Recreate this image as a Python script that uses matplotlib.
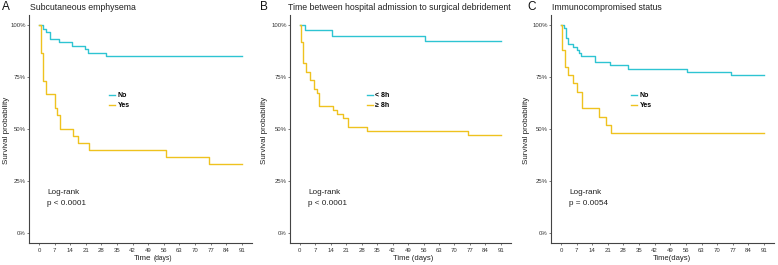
import matplotlib
matplotlib.use("Agg")
import matplotlib.pyplot as plt

plt.rcParams["font.family"] = ["Liberation Sans", "DejaVu Sans"]

CYAN = "#2ec4d2"
GOLD = "#efc21f"

# Panel A: Subcutaneous emphysema
a_no_t = [0, 2, 3, 5, 9, 15, 20.5, 22, 30, 91]
a_no_s = [1.0, 0.983, 0.967, 0.933, 0.917, 0.900, 0.883, 0.867, 0.850, 0.850]
a_yes_t = [0, 1, 2, 3, 7, 8.2, 9.3, 15.2, 17.3, 22.4, 56.8, 76.2, 91]
a_yes_s = [1.0, 0.867, 0.733, 0.667, 0.600, 0.567, 0.500, 0.467, 0.433, 0.400, 0.367, 0.333, 0.333]

# Panel B: Time between hospital admission to surgical debridement
b_lt_t = [0, 2.3, 14.7, 56.7, 91]
b_lt_s = [1.0, 0.974, 0.949, 0.923, 0.923]
b_ge_t = [0, 0.7, 1.5, 2.6, 4.5, 6.5, 7.6, 8.6, 14.8, 17, 19.7, 21.9, 30.2, 76.3, 91]
b_ge_s = [1.0, 0.918, 0.816, 0.775, 0.735, 0.694, 0.673, 0.612, 0.592, 0.571, 0.551,
          0.510, 0.490, 0.469, 0.469]

# Panel C: Immunocompromised status
c_no_t = [0, 1.2, 2.2, 3, 5.2, 7.2, 8.2, 9, 15.3, 22, 30, 56.5, 76, 91]
c_no_s = [1.0, 0.984, 0.936, 0.908, 0.895, 0.882, 0.866, 0.850, 0.820, 0.806, 0.790,
          0.774, 0.758, 0.758]
c_yes_t = [0, 0.5, 2, 3, 5.2, 7.2, 9.3, 17.2, 20.2, 22.5, 91]
c_yes_s = [1.0, 0.88, 0.80, 0.76, 0.72, 0.68, 0.60, 0.56, 0.52, 0.48, 0.48]

x_ticks = [0, 7, 14, 21, 28, 35, 42, 49, 56, 63, 70, 77, 84, 91]
y_ticks = [0, 0.25, 0.5, 0.75, 1.0]
y_labels = ["0%", "25%", "50%", "75%", "100%"]

panels = [
    dict(letter="A", title="Subcutaneous emphysema",
         series=[(a_no_t, a_no_s, "No", CYAN), (a_yes_t, a_yes_s, "Yes", GOLD)],
         p="p < 0.0001", pos=[0.0371, 0.0815, 0.2868, 0.8634],
         letter_x=-0.12, title_x=0.005, ylab_x=-0.10, leg_x=0.359, xlab_x=0.556),
    dict(letter="B", title="Time between hospital admission to surgical debridement",
         series=[(b_lt_t, b_lt_s, "< 8h", CYAN), (b_ge_t, b_ge_s, "\u2265 8h", GOLD)],
         p="p < 0.0001", pos=[0.3726, 0.0815, 0.2841, 0.8634],
         letter_x=-0.135, title_x=-0.008, ylab_x=-0.115, leg_x=0.348, xlab_x=0.556),
    dict(letter="C", title="Immunocompromised status",
         series=[(c_no_t, c_no_s, "No", CYAN), (c_yes_t, c_yes_s, "Yes", GOLD)],
         p="p = 0.0054", pos=[0.708, 0.0815, 0.287, 0.8634],
         letter_x=-0.105, title_x=0.005, ylab_x=-0.11, leg_x=0.359, xlab_x=0.54),
]

fig = plt.figure(figsize=(7.78, 2.65), dpi=100)
AX_COL = "#444444"
TXT = "#222222"

for pn in panels:
    ax = fig.add_axes(pn["pos"])
    for t, s, lab, col in pn["series"]:
        ax.plot(t, s, drawstyle="steps-post", color=col, lw=1.0, label=lab)
    ax.set_xlim(-4.55, 95.55)
    ax.set_ylim(-0.05, 1.05)
    ax.set_xticks(x_ticks)
    ax.set_xticklabels([str(v) for v in x_ticks])
    ax.set_yticks(y_ticks)
    ax.set_yticklabels(y_labels)
    for sp in ["top", "right"]:
        ax.spines[sp].set_visible(False)
    for sp in ["left", "bottom"]:
        ax.spines[sp].set_color(AX_COL)
        ax.spines[sp].set_linewidth(0.8)
    ax.tick_params(axis="both", length=1.5, width=0.5, color=AX_COL, labelsize=4.3,
                   labelcolor="#333333")
    ax.tick_params(axis="x", pad=1.6)
    ax.tick_params(axis="y", pad=0.8)
    ax.text(pn["ylab_x"], 0.496, "Survival probability", transform=ax.transAxes,
            rotation=90, ha="center", va="center", fontsize=5.8, color=TXT)
    if pn["letter"] == "A":
        ax.text(0.550, -0.064, "Time", transform=ax.transAxes, ha="right",
                va="center", fontsize=5.8, color=TXT)
        ax.text(0.5596, -0.066, "(days)", transform=ax.transAxes, ha="left",
                va="center", fontsize=4.8, color=TXT)
    elif pn["letter"] == "B":
        ax.text(pn["xlab_x"], -0.064, "Time (days)", transform=ax.transAxes, ha="center",
                va="center", fontsize=5.5, color=TXT)
    else:
        ax.text(pn["xlab_x"], -0.064, "Time(days)", transform=ax.transAxes, ha="center",
                va="center", fontsize=5.5, color=TXT)
    ax.text(pn["letter_x"], 1.035, pn["letter"], transform=ax.transAxes, fontsize=8.5,
            color="#111111", ha="left", va="center")
    ax.text(pn["title_x"], 1.033, pn["title"], transform=ax.transAxes, fontsize=6.3,
            color=TXT, ha="left", va="center")
    ax.text(3.6, 0.197, "Log-rank", fontsize=5.9, color=TXT, va="center", ha="left")
    ax.text(3.6, 0.144, pn["p"], fontsize=5.9, color=TXT, va="center", ha="left")
    ax.legend(loc="center left", bbox_to_anchor=(pn["leg_x"], 0.623), frameon=False,
              prop={"size": 5.0, "weight": "bold"}, handlelength=0.9,
              handletextpad=0.35, labelspacing=0.45, borderaxespad=0, borderpad=0)

fig.savefig("out.png", dpi=100)
